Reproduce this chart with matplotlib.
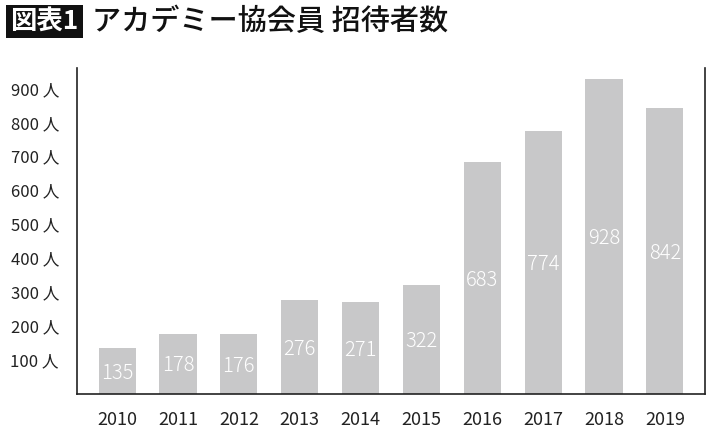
import matplotlib
matplotlib.use("Agg")
import matplotlib.pyplot as plt
from matplotlib.patches import Rectangle

plt.rcParams["font.family"] = ["Noto Sans CJK JP", "DejaVu Sans"]

years = ["2010", "2011", "2012", "2013", "2014", "2015", "2016", "2017", "2018", "2019"]
invited = [135, 178, 176, 276, 271, 322, 683, 774, 928, 842]
y_ticks = [100, 200, 300, 400, 500, 600, 700, 800, 900]
y_labels = [f"{v} 人" for v in y_ticks]
title = "アカデミー協会員 招待者数"
badge = "図表1"

fig = plt.figure(figsize=(7.10, 4.33), dpi=100)
ax = fig.add_axes([77 / 710, 1 - 394 / 433, 628 / 710, 326 / 433])

x = range(len(years))
ax.bar(x, invited, width=0.61, color="#c8c8c9", zorder=2)
for i, v in zip(x, invited):
    ax.text(i, v / 2 - 6, str(v), ha="center", va="center", color="white",
            fontsize=14.5, fontweight="light")

ax.set_xlim(-0.66, len(years) - 0.34)
ax.set_ylim(0, 960)
ax.set_xticks(list(x))
ax.set_xticklabels(years, fontsize=13)
ax.set_yticks(y_ticks)
ax.set_yticklabels(y_labels, fontsize=12)
ax.tick_params(axis="both", length=0, colors="#222222")
ax.tick_params(axis="y", pad=13)
ax.tick_params(axis="x", pad=12)
ax.spines["top"].set_visible(False)
for side in ("left", "bottom", "right"):
    ax.spines[side].set_linewidth(1.2)
    ax.spines[side].set_color("#222222")

# black badge box in pixel-based figure coords
fig.patches.append(Rectangle((6 / 710, 1 - 38 / 433), 77 / 710, 33 / 433,
                             transform=fig.transFigure, facecolor="#111111",
                             edgecolor="none"))
fig.text(44.5 / 710, 1 - 21.5 / 433, badge, ha="center", va="center", color="white",
         fontsize=19, fontweight="bold")
fig.text(92 / 710, 1 - 22 / 433, title, ha="left", va="center", color="#111111",
         fontsize=21, fontweight="medium")

fig.savefig("out.png", dpi=100)
